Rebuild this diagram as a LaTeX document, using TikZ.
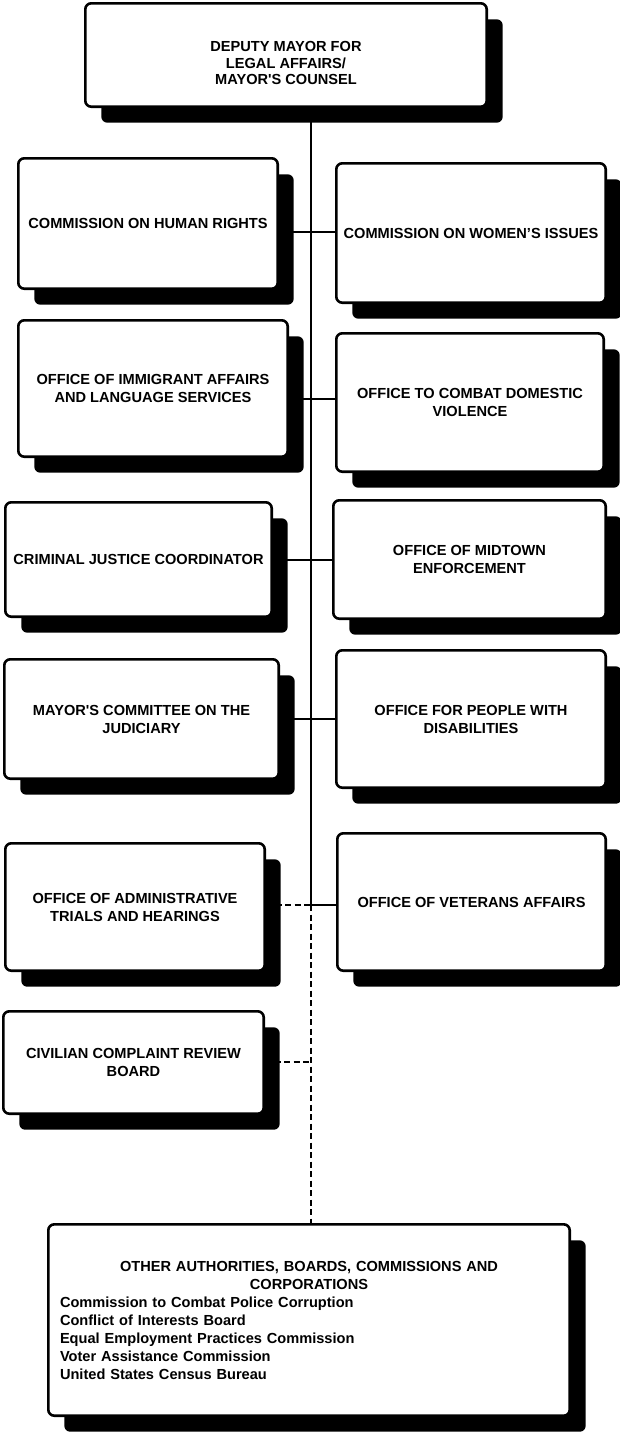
\documentclass[tikz,border=0pt]{standalone}
\usepackage{fontspec}
\setmainfont{Liberation Sans}
\usetikzlibrary{shadows,backgrounds}

\begin{document}
\begin{tikzpicture}[x=1pt, y=-1pt,
    box/.style={draw, line width=2.6pt, rounded corners=6pt, fill=white, align=center, inner sep=2pt,
        font=\bfseries\fontsize{14.6}{18}\selectfont,
        drop shadow={shadow xshift=16pt, shadow yshift=-16pt, fill=black, opacity=1}},
    link/.style={line width=2pt},
    dlink/.style={line width=1.3pt, dash pattern=on 6pt off 3.5pt}]
    \useasboundingbox (0, 0) rectangle (620, 1432);
    \node[box, minimum width=401.4pt, minimum height=103.4pt] (a) at (286, 55) {};
    \node[align=center, font=\bfseries\fontsize{14.6}{16.7}\selectfont] (a1) at (286, 63) {DEPUTY MAYOR FOR\\LEGAL AFFAIRS/\\MAYOR\textquotesingle S COUNSEL};
    \node[box, minimum width=259.4pt, minimum height=130.4pt] (b) at (148, 223.5) {COMMISSION ON HUMAN RIGHTS};
    \node[box, minimum width=269.4pt, minimum height=139.4pt] (c) at (471, 233) {COMMISSION ON WOMEN’S ISSUES};
    \node[box, minimum width=269.4pt, minimum height=136.4pt] (d) at (153, 388.5) {OFFICE OF IMMIGRANT AFFAIRS\\AND LANGUAGE SERVICES};
    \node[box, minimum width=267.4pt, minimum height=138.4pt] (e) at (470, 402.5) {OFFICE TO COMBAT DOMESTIC\\VIOLENCE};
    \node[box, minimum width=266.4pt, minimum height=114.4pt] (f) at (138.5, 559.5) {CRIMINAL JUSTICE COORDINATOR};
    \node[box, minimum width=272.4pt, minimum height=118.4pt] (g) at (469.5, 559.5) {OFFICE OF MIDTOWN\\ENFORCEMENT};
    \node[box, minimum width=274.4pt, minimum height=119.4pt] (h) at (141.5, 719) {MAYOR\textquotesingle S COMMITTEE ON THE\\JUDICIARY};
    \node[box, minimum width=269.4pt, minimum height=137.4pt] (i) at (471, 719) {OFFICE FOR PEOPLE WITH\\DISABILITIES};
    \node[box, minimum width=259.4pt, minimum height=127.4pt] (j) at (135, 907) {OFFICE OF ADMINISTRATIVE\\TRIALS AND HEARINGS};
    \node[box, minimum width=268.4pt, minimum height=137.4pt] (k) at (471.5, 902) {OFFICE OF VETERANS AFFAIRS};
    \node[box, minimum width=260.4pt, minimum height=102.4pt] (l) at (133.5, 1062.5) {CIVILIAN COMPLAINT REVIEW\\BOARD};
    \node[box, minimum width=521.4pt, minimum height=191.4pt, text width=498pt, align=left] (m) at (309, 1320) {{\centering OTHER AUTHORITIES, BOARDS, COMMISSIONS AND\\CORPORATIONS\par}Commission to Combat Police Corruption\\Conflict of Interests Board\\Equal Employment Practices Commission\\Voter Assistance Commission\\United States Census Bureau};
    \coordinate (j1) at (311, 232);
    \coordinate (j2) at (311, 399);
    \coordinate (j3) at (311, 560);
    \coordinate (j4) at (311, 719);
    \coordinate (j5) at (311, 905);
    \coordinate (j6) at (311, 1062);
    \begin{scope}[on background layer]
    \draw [link] (a.south -| j5) to (j5);
    \draw [dlink] (j5) to (m.north -| j5);
    \draw [link] (b.east |- j1) to (c.west |- j1);
    \draw [link] (d.east |- j2) to (e.west |- j2);
    \draw [link] (f.east |- j3) to (g.west |- j3);
    \draw [link] (h.east |- j4) to (i.west |- j4);
    \draw [dlink] (j.east |- j5) to (j5);
    \draw [link] (j5) to (k.west |- j5);
    \draw [dlink] (l.east |- j6) to (j6);
    \end{scope}
\end{tikzpicture}
\end{document}
